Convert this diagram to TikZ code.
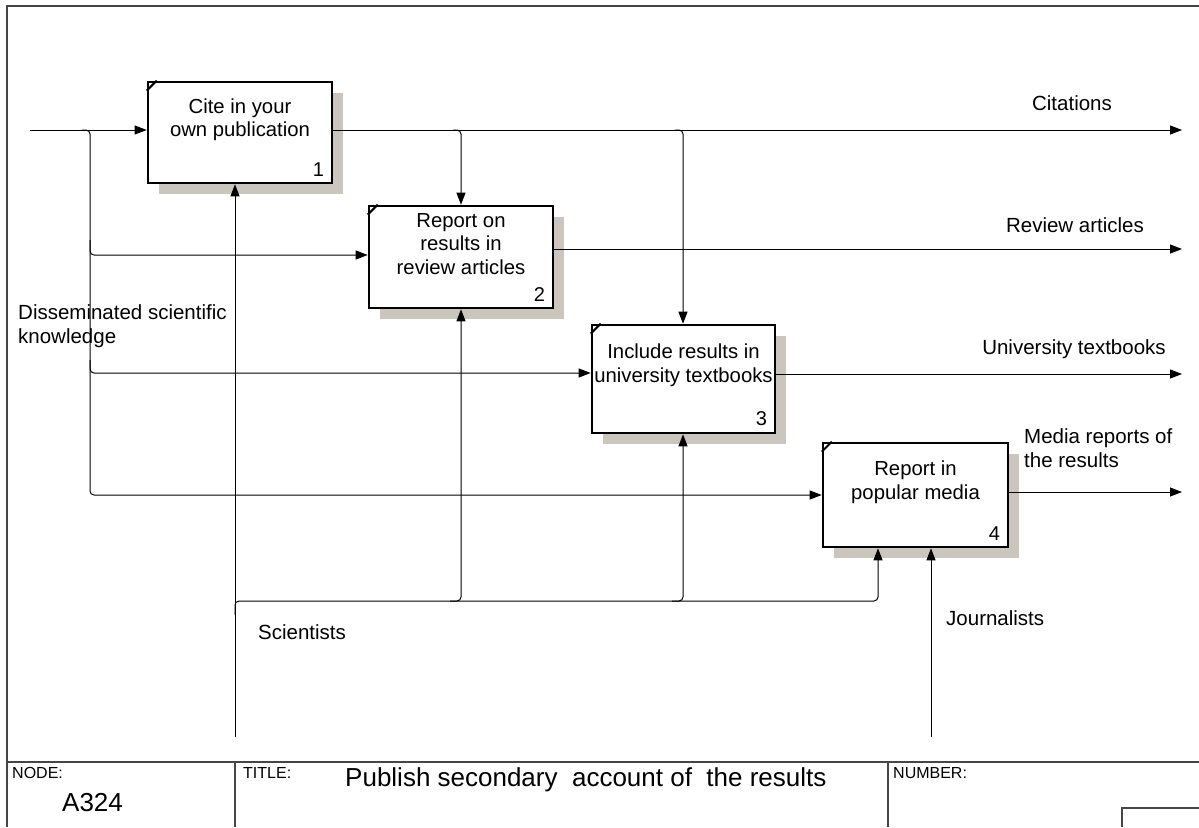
\documentclass[tikz,border=0pt]{standalone}
\usepackage{fontspec}
\setmainfont{Liberation Sans}
\usetikzlibrary{arrows.meta,calc,shadows}
\definecolor{shade}{RGB}{202,198,190}
\definecolor{framegray}{RGB}{70,70,70}

\begin{document}
\begin{tikzpicture}[x=1pt,y=-1pt,
  actbox/.style={draw=black, line width=2.6pt, fill=white, inner sep=0pt,
    drop shadow={shadow xshift=11pt, shadow yshift=-11pt, fill=shade, opacity=1}},
  boxtext/.style={inner sep=0pt, align=center, font=\fontsize{20.3}{23.5}\selectfont},
  numtext/.style={inner sep=0pt, anchor=south east, font=\fontsize{20}{23}\selectfont},
  lbl/.style={inner sep=0pt, align=left, font=\fontsize{20.5}{24}\selectfont},
  small/.style={inner sep=0pt, anchor=west, font=\fontsize{16}{19}\selectfont},
  big/.style={inner sep=0pt, anchor=west, font=\fontsize{26}{29}\selectfont},
  wire/.style={line width=1pt, rounded corners=4pt},
  arr/.style={line width=1pt, rounded corners=4pt, -{Triangle[length=12pt,width=9pt]}},
  tick/.style={line width=2pt},
  frame/.style={draw=framegray, line width=1.5pt}]

\useasboundingbox (0,0) rectangle (1199,827);

% outer frame and title block
\draw[frame] (7,827) -- (7,6) -- (1199,6);
\draw[frame] (7,762) -- (1199,762);
\draw[frame] (235,762) -- (235,827);
\draw[frame] (888,762) -- (888,827);
\draw[frame] (1122,827) -- (1122,808) -- (1199,808);
\node[small] (nodelbl) at (12,773) {NODE:};
\node[big] (nodeid) at (62,803) {A324};
\node[small] (titlelbl) at (243,773) {TITLE:};
\node[big] (title) at (345,780) {Publish secondary\ \ account of\ \ the results};
\node[small] (numlbl) at (893,773) {NUMBER:};

% activity boxes
\node[actbox, minimum width=184pt, minimum height=101pt] (b1) at (240,132.5) {};
\node[actbox, minimum width=184pt, minimum height=102pt] (b2) at (461,257) {};
\node[actbox, minimum width=183pt, minimum height=108pt] (b3) at (683.5,379) {};
\node[actbox, minimum width=185pt, minimum height=104pt] (b4) at (915.5,495) {};

\foreach \b in {b1,b2,b3,b4}
  \draw[tick] ($(\b.north west)+(0,10)$) -- ($(\b.north west)+(10,0)$);

\node[boxtext] (t1) at ($(b1.center)+(0,-13)$) {Cite in your\\own publication};
\node[boxtext] (t2) at ($(b2.center)+(0,-13)$) {Report on\\results in\\review articles};
\node[boxtext] (t3) at ($(b3.center)+(0,-14)$) {Include results in\\university textbooks};
\node[boxtext] (t4) at ($(b4.center)+(0,-13)$) {Report in\\popular media};

\node[numtext] (n1) at ($(b1.south east)+(-9,-8)$) {1};
\node[numtext] (n2) at ($(b2.south east)+(-9,-8)$) {2};
\node[numtext] (n3) at ($(b3.south east)+(-9,-8)$) {3};
\node[numtext] (n4) at ($(b4.south east)+(-9,-8)$) {4};

% input: disseminated knowledge
\coordinate (src) at (30,130);
\coordinate (fork) at (90,130);
\draw[arr] (src) -- (src -| b1.west);
\draw[arr] ($(fork)+(-8,0)$) -- (fork) -- (90,495) -- (b4.west |- 0,495);
\draw[arr] (90,240) -- (90,255) -- (b2.west |- 0,255);
\draw[arr] (90,360) -- (90,373) -- (b3.west |- 0,373);
\node[lbl, anchor=west] (inlbl) at (18,326) {Disseminated scientific\\knowledge};

% outputs
\coordinate (o1) at (1182,130);
\coordinate (o2) at (1182,249);
\coordinate (o3) at (1182,374);
\coordinate (o4) at (1182,492);
\draw[arr] (b1.east |- o1) -- (o1);
\draw[arr] (b2.east |- o2) -- (o2);
\draw[arr] (b3.east |- o3) -- (o3);
\draw[arr] (b4.east |- o4) -- (o4);
\draw[arr] (453,130) -- (461,130) -- (b2.north);
\draw[arr] (675,130) -- (683,130) -- (683,0 |- b3.north);
\node[lbl] (c1) at (1072,103) {Citations};
\node[lbl] (c2) at (1075,225) {Review articles};
\node[lbl] (c3) at (1074,349) {University textbooks};
\node[lbl, anchor=west] (c4) at (1024,448) {Media reports of\\the results};

% mechanisms
\coordinate (sci) at (235,737);
\coordinate (jour) at (931,737);
\draw[arr] (sci) -- (sci |- b1.south);
\draw[arr] (235,615) -- (235,601) -- (878,601) -- (878,0 |- b4.south);
\draw[arr] (450,601) -- (461,601) -- (b2.south);
\draw[arr] (672,601) -- (683,601) -- (683,0 |- b3.south);
\draw[arr] (jour) -- (jour |- b4.south);
\node[lbl, anchor=west] (scilbl) at (258,632) {Scientists};
\node[lbl, anchor=west] (jourlbl) at (946,618) {Journalists};

\end{tikzpicture}
\end{document}
